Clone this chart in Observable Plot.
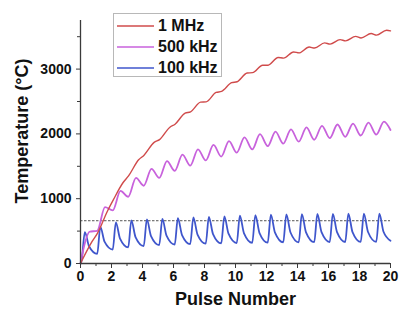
<!DOCTYPE html>
<html>
<head>
<meta charset="utf-8">
<script src="https://cdn.jsdelivr.net/npm/d3@7"></script>
<script src="https://cdn.jsdelivr.net/npm/@observablehq/plot@0.6"></script>
<style>
  body { margin: 0; background: #fff; }
  #chart { position: relative; width: 410px; height: 314px; }
  .legend {
    position: absolute; left: 113px; top: 13px; width: 109px; height: 64px;
    box-sizing: border-box; border: 1px solid #b8b8b8; background: #fff;
    padding-top: 1px;
    font: bold 16px "Liberation Sans", Arial, sans-serif; color: #111;
  }
  .legend .row { display: flex; align-items: center; height: 21px; }
  .legend svg { margin-left: 3px; margin-right: 4px; }
</style>
</head>
<body>
<div id="chart"></div>
<script>
// Pulse number axis ticks
const xMajor = [0, 2, 4, 6, 8, 10, 12, 14, 16, 18, 20];
const xMinor = [1, 3, 5, 7, 9, 11, 13, 15, 17, 19];
// Temperature axis ticks (°C)
const yMajor = [0, 1000, 2000, 3000];
const yMinor = [500, 1500, 2500, 3500];
// Reference temperature (dashed line)
const meltTemp = 660;

const seriesNames = ["1 MHz", "500 kHz", "100 kHz"];
const seriesColors = ["#d04b4b", "#c862dc", "#3f56cc"];

// 1 MHz: slowly rippling rise
const mhz1X = [0, 0.75, 1.1, 1.75, 2.1, 2.75, 3.1, 3.75, 4.1, 4.75, 5.1, 5.75, 6.1, 6.75, 7.1, 7.75,
  8.1, 8.75, 9.1, 9.75, 10.1, 10.75, 11.1, 11.75, 12.1, 12.75, 13.1, 13.75, 14.1, 14.75, 15.1, 15.75,
  16.1, 16.75, 17.1, 17.75, 18.1, 18.75, 19.1, 19.75, 20];
const mhz1Y = [0, 340, 470, 815, 975, 1250, 1352, 1600, 1672, 1870, 1912, 2100, 2150, 2320, 2340, 2490,
  2495, 2640, 2655, 2790, 2805, 2940, 2945, 3060, 3060, 3180, 3170, 3265, 3250, 3340, 3325, 3405,
  3385, 3455, 3435, 3505, 3480, 3550, 3525, 3600, 3590];

// 500 kHz: troughs and crests of each pulse
const khz500X = [0, 0.3, 0.58, 1.08, 1.58, 2.08, 2.58, 3.08, 3.58, 4.08, 4.58, 5.08, 5.58, 6.08, 6.58,
  7.08, 7.58, 8.08, 8.58, 9.08, 9.58, 10.08, 10.58, 11.08, 11.58, 12.08, 12.58, 13.08, 13.58, 14.08, 14.58,
  15.08, 15.58, 16.08, 16.58, 17.08, 17.58, 18.08, 18.58, 19.08, 19.58, 20];
const khz500Y = [0, 330, 490, 505, 870, 820, 1120, 1030, 1320, 1200, 1460, 1320, 1580, 1430, 1680,
  1510, 1760, 1590, 1830, 1650, 1890, 1710, 1945, 1760, 1995, 1810, 2035, 1850, 2070, 1880, 2100,
  1910, 2125, 1935, 2145, 1955, 2160, 1975, 2175, 1990, 2190, 2060];

// 100 kHz: trough, peak and cooling point of each pulse
const khz100X = [0, 0.04, 0.28, 0.55, 1.08, 1.28, 1.55, 2.08, 2.28, 2.55, 3.08, 3.28, 3.55, 4.08, 4.28, 4.55,
  5.08, 5.28, 5.55, 6.08, 6.28, 6.55, 7.08, 7.28, 7.55, 8.08, 8.28, 8.55, 9.08, 9.28, 9.55,
  10.08, 10.28, 10.55, 11.08, 11.28, 11.55, 12.08, 12.28, 12.55, 13.08, 13.28, 13.55, 14.08, 14.28, 14.55,
  15.08, 15.28, 15.55, 16.08, 16.28, 16.55, 17.08, 17.28, 17.55, 18.08, 18.28, 18.55, 19.08, 19.28, 19.55, 20];
const khz100Y = [0, 0, 485, 267, 150, 565, 337, 215, 635, 385, 250, 665, 408, 270, 680, 423,
  285, 688, 431, 293, 698, 439, 300, 710, 447, 306, 720, 454, 311, 728, 460,
  315, 737, 465, 319, 746, 470, 322, 753, 475, 325, 758, 478, 327, 762, 481,
  329, 764, 483, 331, 766, 484, 332, 768, 485, 333, 769, 486, 334, 770, 490, 352];

const toRows = (xs, ys) => xs.map((x, i) => ({x, y: ys[i]}));
const series = [
  toRows(mhz1X, mhz1Y),
  toRows(khz500X, khz500Y),
  toRows(khz100X, khz100Y)
];
const widths = [1.4, 1.8, 1.8];

const font = "'Liberation Sans', Arial, Helvetica, sans-serif";
const axisColor = "#3a3a3a";

const plot = Plot.plot({
  width: 410,
  height: 314,
  marginLeft: 80,
  marginRight: 20,
  marginTop: 20,
  marginBottom: 51,
  style: {fontFamily: font, background: "white", color: "#111", overflow: "visible"},
  x: {domain: [0, 20], axis: null},
  y: {domain: [0, 3750], axis: null},
  marks: [
    Plot.ruleY([meltTemp], {stroke: "#555", strokeWidth: 1, strokeDasharray: "2.5,1.5"}),
    ...[2, 1, 0].map(k => Plot.line(series[k], {
      x: "x", y: "y", stroke: seriesColors[k], strokeWidth: widths[k], curve: "monotone-x"
    })),
    Plot.ruleX([0], {stroke: axisColor, strokeWidth: 1.3}),
    Plot.ruleY([0], {stroke: axisColor, strokeWidth: 1.3}),
    Plot.axisX(xMajor, {tickSize: 5, tickPadding: 3, fontSize: 14, fontWeight: "bold", stroke: axisColor, fill: "#111", tickFormat: d => String(d), label: null}),
    Plot.axisX(xMinor, {tickSize: 3, stroke: axisColor, tickFormat: () => "", label: null}),
    Plot.axisY(yMajor, {tickSize: 4, tickPadding: 5, fontSize: 14, fontWeight: "bold", stroke: axisColor, fill: "#111", tickFormat: d => String(d), label: null}),
    Plot.axisY(yMinor, {tickSize: 3, stroke: axisColor, tickFormat: () => "", label: null}),
    Plot.text(["Pulse Number"], {frameAnchor: "bottom", dy: 41, fontSize: 18, fontWeight: "bold", fill: "#111"}),
    Plot.text(["Temperature (°C)"], {frameAnchor: "left", textAnchor: "middle", rotate: -90, dx: -58, dy: -11, fontSize: 18, fontWeight: "bold", fill: "#111"})
  ]
});

const chart = document.getElementById("chart");
chart.appendChild(plot);

// Legend box inside the plot area
const legend = document.createElement("div");
legend.className = "legend";
seriesNames.forEach((name, k) => {
  const row = document.createElement("div");
  row.className = "row";
  row.innerHTML = `<svg width="37" height="4"><line x1="0" x2="37" y1="2" y2="2" stroke="${seriesColors[k]}" stroke-width="1.6"/></svg><span>${name}</span>`;
  legend.appendChild(row);
});
chart.appendChild(legend);
</script>
</body>
</html>
